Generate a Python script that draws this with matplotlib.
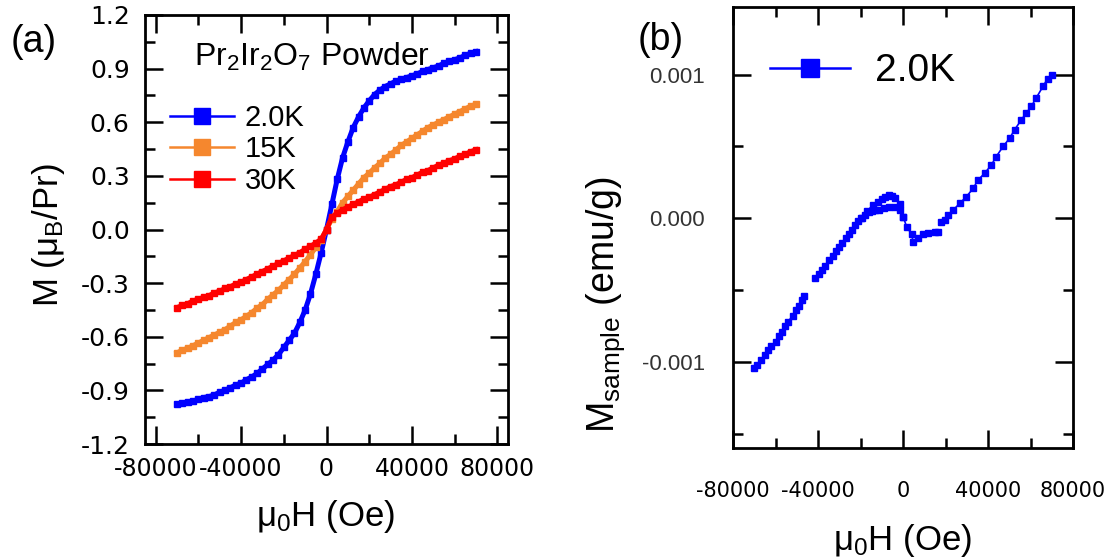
import numpy as np
import matplotlib
matplotlib.use("Agg")
import matplotlib.pyplot as plt
from matplotlib.lines import Line2D
from matplotlib.ticker import MultipleLocator, FormatStrFormatter

plt.rcParams['font.family'] = ['Liberation Sans', 'DejaVu Sans']
plt.rcParams['mathtext.fontset'] = 'custom'
plt.rcParams['mathtext.rm'] = 'Liberation Sans'
plt.rcParams['mathtext.it'] = 'Liberation Sans:italic'
plt.rcParams['mathtext.bf'] = 'Liberation Sans:bold'
plt.rcParams['axes.unicode_minus'] = False

# ---------------- data: panel (a) ----------------
H_a = [-70000, -67500, -65000, -62500, -60000, -57500, -55000, -52500, -50000, -47500,
       -45000, -42500, -40000, -37500, -35000, -32500, -30000, -27500, -25000, -22500,
       -20000, -17500, -15000, -12500, -10000, -7500, -5000, -2500, 0,
       2500, 5000, 7500, 10000, 12500, 15000, 17500, 20000, 22500, 25000,
       27500, 30000, 32500, 35000, 37500, 40000, 42500, 45000, 47500, 50000,
       52500, 55000, 57500, 60000, 62500, 65000, 67500, 70000]
M_2K = [-0.977, -0.970, -0.965, -0.960, -0.950, -0.940, -0.935, -0.925, -0.910, -0.900,
        -0.885, -0.870, -0.860, -0.840, -0.825, -0.805, -0.780, -0.755, -0.730, -0.700,
        -0.660, -0.620, -0.580, -0.520, -0.450, -0.360, -0.250, -0.130, 0.000,
        0.140, 0.280, 0.400, 0.490, 0.570, 0.630, 0.680, 0.720, 0.755, 0.780,
        0.800, 0.815, 0.830, 0.840, 0.850, 0.860, 0.870, 0.885, 0.895, 0.905,
        0.915, 0.930, 0.940, 0.950, 0.960, 0.975, 0.985, 0.995]
M_15K = [-0.690, -0.675, -0.665, -0.650, -0.635, -0.620, -0.605, -0.590, -0.575, -0.560,
         -0.540, -0.520, -0.505, -0.485, -0.465, -0.440, -0.420, -0.390, -0.365, -0.340,
         -0.310, -0.280, -0.250, -0.215, -0.180, -0.140, -0.100, -0.060, 0.000,
         0.060, 0.100, 0.150, 0.185, 0.220, 0.255, 0.290, 0.315, 0.345, 0.370,
         0.400, 0.420, 0.445, 0.470, 0.490, 0.510, 0.530, 0.550, 0.570, 0.585,
         0.600, 0.615, 0.630, 0.645, 0.660, 0.675, 0.690, 0.700]
M_30K = [-0.437, -0.425, -0.415, -0.400, -0.390, -0.380, -0.370, -0.355, -0.345, -0.330,
         -0.320, -0.305, -0.295, -0.280, -0.265, -0.250, -0.235, -0.220, -0.205, -0.190,
         -0.175, -0.160, -0.145, -0.130, -0.110, -0.095, -0.075, -0.055, 0.000,
         0.070, 0.090, 0.110, 0.125, 0.140, 0.155, 0.170, 0.180, 0.195, 0.210,
         0.225, 0.240, 0.250, 0.265, 0.280, 0.290, 0.305, 0.320, 0.330, 0.345,
         0.360, 0.370, 0.385, 0.395, 0.410, 0.420, 0.435, 0.446]
labels_a = ["2.0K", "15K", "30K"]
colors_a = ["#0000FF", "#F5872E", "#FF0000"]

# ---------------- data: panel (b) ----------------
# field sweep up (NaN marks gaps between measurement segments)
H_b = [-70000, -68500, -67000, -65000, -63500, -62000, -60000, -58500, -57000, -55500,
       -54000, -52000, -50500, -49000, -47500, -46500, np.nan,
       -41300, -39500, -38000, -36500, -35000, -33000, -31500, -30000, -28500, -27000,
       -25500, -24000, -22500, -21000, -19500, -18000, -16000, -14500, -13000, -11500,
       -9000, -6700, -3600, -1500, 100, 1700, 4000, 4800, 7200, 9500, 11900, 15000, 16500,
       np.nan,
       18100, 19700, 21200, 23600, 26700, 29800, 33000, 35300, 38400, 41600, 43900,
       47100, 50200, 52500, 55700, 58000, 60400, 62700, 65900, 68000, 70000]
M_b = [-1.04e-3, -1.02e-3, -0.99e-3, -0.95e-3, -0.92e-3, -0.89e-3, -0.86e-3, -0.82e-3, -0.79e-3, -0.75e-3,
       -0.72e-3, -0.68e-3, -0.64e-3, -0.61e-3, -0.57e-3, -0.54e-3, np.nan,
       -0.42e-3, -0.39e-3, -0.36e-3, -0.33e-3, -0.29e-3, -0.26e-3, -0.23e-3, -0.20e-3, -0.17e-3, -0.14e-3,
       -0.11e-3, -0.08e-3, -0.05e-3, -0.02e-3, 0.00e-3, 0.02e-3, 0.04e-3, 0.05e-3, 0.055e-3, 0.06e-3,
       0.07e-3, 0.08e-3, 0.08e-3, 0.06e-3, 0.01e-3, -0.06e-3, -0.11e-3, -0.165e-3, -0.14e-3, -0.11e-3, -0.10e-3, -0.095e-3, -0.095e-3,
       np.nan,
       -0.026e-3, -0.014e-3, 0.021e-3, 0.056e-3, 0.103e-3, 0.149e-3, 0.207e-3, 0.266e-3, 0.312e-3, 0.371e-3, 0.429e-3,
       0.499e-3, 0.557e-3, 0.615e-3, 0.685e-3, 0.732e-3, 0.779e-3, 0.837e-3, 0.918e-3, 0.970e-3, 1.000e-3]
# field sweep down around the low-field bump
H_b_down = [-20000, -17000, -14000, -12000, -10000, -8500, -6700, -5000, -3600, -1200, 100]
M_b_down = [0.00e-3, 0.05e-3, 0.09e-3, 0.11e-3, 0.13e-3, 0.15e-3, 0.16e-3, 0.155e-3, 0.14e-3, 0.10e-3, 0.01e-3]
label_b = "2.0K"
color_b = "#0000FF"

# ---------------- figure ----------------
fig = plt.figure(figsize=(11.17, 5.6), dpi=100)
axA = fig.add_axes([145/1117, 1-444/560, 363/1117, 429/560])
axB = fig.add_axes([733/1117, 1-448/560, 340/1117, 441/560])

def style_axes(ax):
    for s in ax.spines.values():
        s.set_linewidth(2.0)
    ax.tick_params(which='both', direction='in', top=True, right=True, width=1.8)
    ax.tick_params(which='major', length=13)
    ax.tick_params(which='minor', length=7)

def set_tick_font(ax, axis, family, size, color='black'):
    labels = ax.get_xticklabels() if axis == 'x' else ax.get_yticklabels()
    for lab in labels:
        lab.set_family(family)
        lab.set_fontsize(size)
        lab.set_color(color)

# panel (a)
for M, c in zip([M_2K, M_15K, M_30K], colors_a):
    axA.plot(H_a, M, color=c, lw=3.6, marker='s', ms=4.2, mec=c, mfc=c)
axA.set_xlim(-85000, 85000)
axA.set_ylim(-1.2, 1.2)
axA.xaxis.set_major_locator(MultipleLocator(40000))
axA.xaxis.set_minor_locator(MultipleLocator(20000))
axA.yaxis.set_major_locator(MultipleLocator(0.3))
axA.yaxis.set_minor_locator(MultipleLocator(0.15))
axA.yaxis.set_major_formatter(FormatStrFormatter('%.1f'))
style_axes(axA)
axA.tick_params(axis='y', pad=11)
axA.tick_params(axis='x', pad=9)
set_tick_font(axA, 'x', 'DejaVu Sans', 17)
set_tick_font(axA, 'y', 'DejaVu Sans', 18)
axA.set_xlabel("μ$_0$H (Oe)", fontsize=25)
axA.xaxis.set_label_coords(0.4986, -0.125)
axA.set_ylabel("M (μ$_\\mathregular{B}$/Pr)", fontsize=25)
axA.yaxis.set_label_coords(-0.214, 0.487)
axA.text(0.46, 0.902, "Pr$_2$Ir$_2$O$_7$ Powder", transform=axA.transAxes,
         ha='center', va='center', fontsize=23)
handlesA = [Line2D([], [], color=c, lw=1.8, marker='s', ms=11) for c in colors_a]
axA.legend(handlesA, labels_a, loc='upper left', bbox_to_anchor=(0.069, 0.793),
           frameon=False, fontsize=21, handlelength=2.2, handletextpad=0.35,
           labelspacing=0.12, borderaxespad=0.0, borderpad=0.0)
fig.text(34/1117, 1-42/560, "(a)", fontsize=27, ha='center', va='center')

# panel (b)
axB.plot(H_b, M_b, color=color_b, lw=1.2, marker='s', ms=4.0, mec=color_b, mfc=color_b)
axB.plot(H_b_down, M_b_down, color=color_b, lw=1.2, marker='s', ms=4.0, mec=color_b, mfc=color_b)
axB.set_xlim(-80000, 80000)
axB.set_ylim(-0.00160, 0.00147)
axB.xaxis.set_major_locator(MultipleLocator(40000))
axB.xaxis.set_minor_locator(MultipleLocator(20000))
axB.yaxis.set_major_locator(MultipleLocator(0.001))
axB.yaxis.set_minor_locator(MultipleLocator(0.0005))
axB.yaxis.set_major_formatter(FormatStrFormatter('%.3f'))
style_axes(axB)
axB.tick_params(axis='x', pad=24)
axB.tick_params(axis='y', pad=20)
set_tick_font(axB, 'x', 'DejaVu Sans', 15)
set_tick_font(axB, 'y', 'Liberation Sans', 16, '#333333')
axB.set_xlabel("μ$_0$H (Oe)", fontsize=25)
axB.xaxis.set_label_coords(0.5, -0.168)
axB.set_ylabel("M$_\\mathregular{sample}$ (emu/g)", fontsize=27)
axB.yaxis.set_label_coords(-0.312, 0.324)
handleB = [Line2D([], [], color=color_b, lw=1.8, marker='s', ms=13)]
axB.legend(handleB, [label_b], loc='upper left', bbox_to_anchor=(0.109, 0.895),
           frameon=False, fontsize=28, handlelength=2.05, handletextpad=0.65,
           borderaxespad=0.0, borderpad=0.0)
fig.text(661/1117, 1-40/560, "(b)", fontsize=27, ha='center', va='center')

fig.savefig("out.png", dpi=100)
